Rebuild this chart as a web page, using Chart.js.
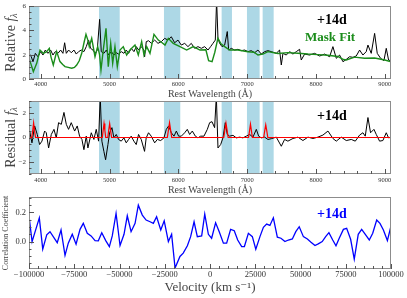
<!DOCTYPE html>
<html>
<head>
<meta charset="utf-8">
<script src="https://cdn.jsdelivr.net/npm/chart.js@4.4.1/dist/chart.umd.min.js"></script>
<style>
  html, body { margin: 0; padding: 0; background: #fff; }
  #wrap { position: relative; width: 407px; height: 298px; overflow: hidden; }
  canvas { position: absolute; left: 0; }
</style>
</head>
<body>
<div id="wrap">
  <canvas id="c1" width="407" height="100" style="top:0px"></canvas>
  <canvas id="c2" width="407" height="100" style="top:96px"></canvas>
  <canvas id="c3" width="407" height="108" style="top:190px"></canvas>
</div>
<script>
// --- data ---
const specWave = [3830,3863,3888,3922,3960,3999,4033,4067,4106,4144,4178,4212,4251,4290,4323,4348,4372,4406,4444,4483,4517,4551,4590,4628,4662,4696,4725,4759,4793,4822,4856,4880,4919,4953,4987,5026,5064,5098,5132,5171,5209,5243,5277,5316,5355,5389,5423,5461,5500,5510,5534,5568,5607,5656,5704,5753,5801,5850,5898,5946,5995,6043,6092,6140,6188,6237,6285,6334,6382,6431,6469,6503,6537,6556,6576,6600,6634,6673,6711,6731,6770,6818,6866,6915,6963,7012,7060,7108,7157,7205,7254,7302,7350,7423,7471,7496,7520,7568,7617,7665,7714,7762,7786,7835,7907,7980,8053,8125,8198,8246,8295,8343,8392,8440,8488,8537,8585,8634,8682,8730,8755,8803,8852,8890,8939,8987,9021,9055,9093];
const specFlux = [2.11,1.83,1.42,2.11,1.83,2.25,1.97,2.38,2.11,2.38,1.97,2.25,2.11,2.38,2.11,2.98,2.11,2.38,2.16,2.38,2.05,2.25,2.38,2.25,2.66,3.2,2.52,2.38,2.11,2.38,4.90,2.25,2.11,2.38,1.97,2.25,1.97,2.16,2.05,2.25,2.11,2.38,2.11,2.52,2.25,2.66,2.38,2.66,2.38,1.83,3.07,3.15,2.93,3.2,2.93,3.07,3.34,3.2,3.47,2.98,3.2,2.79,2.93,2.66,2.93,2.52,2.66,2.52,2.66,2.38,2.66,2.93,3.2,6.5,3.34,2.93,2.66,2.79,3.9,2.38,2.52,2.38,2.44,2.33,2.38,2.25,2.33,2.16,2.38,2.05,2.25,2.33,2.25,2.11,2.38,1.15,2.11,1.97,2.25,2.05,2.25,2.44,1.56,2.05,1.97,2.11,1.89,2.05,1.83,2.66,1.70,1.97,1.42,1.61,1.83,1.78,1.89,2.38,1.97,2.25,2.79,2.11,3.75,2.11,1.70,1.51,2.52,1.56,1.48];

const fitWave = [3830,3860,3893,3942,3990,4038,4087,4125,4150,4183,4232,4280,4320,4353,4400,4450,4490,4523,4560,4596,4630,4658,4685,4706,4741,4789,4828,4855,4876,4909,4949,4982,5017,5046,5079,5113,5152,5200,5249,5297,5370,5418,5467,5501,5540,5588,5646,5709,5760,5806,5854,5926,6024,6121,6217,6314,6400,6440,6490,6530,6575,6620,6673,6745,6866,7011,7100,7157,7229,7302,7447,7592,7737,7883,8028,8173,8318,8400,8440,8561,8706,8852,9000,9093];
const fitFlux = [1.70,1.2,0.60,1.29,2.38,2.11,2.25,2.52,1.8,1.15,2.25,1.43,1.2,1.02,0.95,0.88,0.95,1.15,1.5,2.11,3.0,3.67,3.2,2.66,3.34,1.83,2.66,2.0,0.74,2.38,4.16,1.02,2.93,1.29,2.66,1.02,2.38,2.66,1.97,2.38,2.79,1.97,3.07,1.97,2.66,2.11,3.67,3.2,3.0,2.79,3.34,2.93,2.66,2.38,2.66,2.38,2.4,1.5,1.43,2.2,3.36,2.9,2.66,2.38,2.38,2.24,2.2,1.97,2.05,2.25,2.1,2.17,2.12,2.05,2.0,1.95,1.85,1.6,1.56,1.8,1.7,1.72,1.56,1.42];

const resWave = [3830,3839,3873,3912,3950,3984,4018,4057,4081,4115,4154,4193,4226,4260,4299,4338,4372,4405,4444,4493,4531,4565,4599,4628,4662,4686,4735,4773,4807,4841,4865,4889,4918,4943,4977,5001,5035,5064,5098,5131,5170,5209,5243,5277,5315,5354,5388,5422,5461,5509,5533,5567,5606,5656,5695,5743,5791,5825,5859,5898,5937,5971,6004,6043,6092,6130,6164,6203,6247,6285,6324,6372,6421,6455,6489,6527,6552,6576,6615,6648,6682,6711,6745,6794,6842,6891,6939,6987,7036,7084,7133,7167,7205,7254,7302,7350,7423,7496,7544,7592,7665,7738,7810,7883,7956,8028,8101,8174,8246,8295,8367,8440,8513,8571,8634,8682,8716,8755,8793,8842,8876,8924,8972,9021,9055,9093];
const resFlux = [0.3,0.53,-0.44,0.95,0.25,-0.58,-0.3,0.53,0.39,-0.86,0.25,0.67,-0.03,1.22,1.08,2.06,1.08,0.67,1.22,0.53,0.95,0.11,-0.16,-1.0,0.11,-0.86,0.39,-0.16,0.67,-0.3,3.4,-0.3,-1.14,-1.83,-0.58,0.39,0.81,-0.03,0.25,-0.16,-0.3,-0.03,-0.44,-0.16,0.11,-0.3,-0.58,0.25,-0.16,-1.14,-0.03,0.39,0.11,-0.44,-0.16,-0.25,-0.03,0.67,0.95,0.39,0.11,0.53,0.11,0.11,0.39,0.67,0.25,0.53,0.11,-0.03,0.11,0.11,0.67,1.22,1.3,0.81,3.4,-0.86,-0.58,-0.03,1.22,0.25,0.11,0.18,-0.03,0.03,-0.03,0.11,0.25,0.03,0.67,0.11,-0.03,0.03,-0.16,-0.1,0.03,-0.72,-0.16,-0.3,-0.08,0.03,-0.25,0.03,-0.08,0.03,0.2,0.53,-0.08,-0.3,0.03,-0.25,-0.16,-0.3,0.2,0.39,0.11,1.64,0.39,0.67,0.25,-0.3,-0.25,0.39,-0.03,0.03];

const lineWave = [3830,3870,3885,3897,3910,3925,4895,4908,4920,4932,4945,4975,4988,5002,5015,5030,5840,5856,5872,5888,5904,6660,6676,6692,6708,6724,7020,7034,7048,7062,7076,7240,7255,7270,7285,7300,9093];
const lineFlux = [0,0,0.6,1.2,0.6,0,0,0.6,1.15,0.6,0,0,0.6,1.15,0.6,0,0,0.6,1.22,0.6,0,0,0.6,1.18,0.6,0,0,0.55,1.1,0.55,0,0,0.55,1.05,0.55,0,0];

const maskLo = [3830, 4847, 5791, 6629, 6997, 7225];
const maskHi = [3980, 5148, 6028, 6779, 7181, 7385];

const velocity = [-100000,-98300,-94300,-92400,-90200,-88400,-84400,-82300,-80100,-78300,-76100,-74000,-71800,-70000,-67800,-65700,-63500,-61700,-59800,-57600,-55600,-54000,-51900,-49700,-47500,-45700,-43600,-41400,-39600,-37400,-35300,-33100,-31300,-29500,-27200,-25300,-23000,-21200,-19300,-16600,-14800,-12500,-10700,-8800,-7000,-4600,-2900,-900,900,3100,5100,7400,9200,11400,13400,15300,17500,19000,21200,23400,25300,27600,29500,31300,33100,35000,37200,39200,41400,43300,45500,47400,49300,51600,53800,55800,58000,59800,62000,63900,65700,67800,69600,71400,73700,75500,77700,79700,81900,83800,86000,88000,89900,92100,93900,95800,98000,100000];
const corr = [0.175,0.0,0.163,-0.052,0.046,0.068,-0.007,0.08,-0.095,-0.011,0.05,-0.018,0.084,0.125,0.057,0.039,0.007,0.005,0.061,0.007,-0.034,0.039,0.193,-0.027,0.05,0.177,0.068,0.125,0.25,0.182,0.148,0.136,0.125,0.17,0.08,0.143,0.0,0.05,-0.181,-0.102,-0.079,-0.029,0.034,0.136,0.034,0.039,0.188,0.05,0.023,0.129,0.068,-0.011,-0.011,0.084,0.075,0.011,-0.034,-0.034,0.057,0.034,-0.052,0.034,0.098,0.12,0.111,0.163,0.03,0.023,0.0,0.011,0.018,0.068,0.102,0.034,0.018,-0.004,-0.027,-0.016,0.0,0.034,0.061,0.011,-0.029,0.023,0.084,0.091,0.016,-0.12,0.05,0.084,0.046,0.011,0.057,0.148,0.125,0.08,0.007,0.107];

const waveTicks = [4000, 5000, 6000, 7000, 8000, 9000];
const fluxTicks = [0, 2, 4, 6];
const resTicks = [-2, 0, 2];
const velTicks = [-100000, -75000, -50000, -25000, 0, 25000, 50000, 75000, 100000];
const corrTicks = [0.0, 0.2];

// --- styling ---
const SERIF = "'Liberation Serif', 'DejaVu Serif', serif";
const FRAME = '#8c8c8c';
const TICKC = '#333';
const LABELC = '#444';
const GREEN = '#1a8c1a';
const minus = v => (v < 0 ? '\u2212' + Math.abs(v) : String(v));

function pts(xs, ys) {
  return xs.map((x, i) => ({ x: x, y: ys[i] }));
}

function drawRuns(ctx, runs, cx, cy, rot) {
  ctx.save();
  ctx.translate(cx, cy);
  ctx.rotate(rot || 0);
  ctx.textBaseline = 'middle';
  ctx.textAlign = 'left';
  let w = 0;
  runs.forEach(r => { ctx.font = r.f; w += ctx.measureText(r.t).width; });
  let x = -w / 2;
  runs.forEach(r => {
    ctx.font = r.f;
    ctx.fillStyle = r.c || LABELC;
    ctx.fillText(r.t, x, r.dy || 0);
    x += ctx.measureText(r.t).width;
  });
  ctx.restore();
}

function minorTicks(ctx, scale, a, majors, step, horiz, lenMaj, lenMin) {
  const k0 = Math.ceil(scale.min / step - 1e-6);
  const k1 = Math.floor(scale.max / step + 1e-6);
  for (let k = k0; k <= k1; k++) {
    const v = k * step;
    const isMaj = majors.some(m => Math.abs(m - v) < step * 0.01);
    const len = isMaj ? lenMaj : lenMin;
    const p = Math.round(scale.getPixelForValue(v)) + 0.5;
    ctx.beginPath();
    if (horiz) { ctx.moveTo(p, a.bottom); ctx.lineTo(p, a.bottom - len); }
    else { ctx.moveTo(a.left, p); ctx.lineTo(a.left + len, p); }
    ctx.stroke();
  }
}

function decor(cfg) {
  return {
    id: 'decor',
    beforeDatasetsDraw(chart) {
      if (!cfg.bands) return;
      const { ctx, chartArea: a, scales: { x } } = chart;
      ctx.save();
      ctx.fillStyle = '#add8e6';
      maskLo.forEach((lo, i) => {
        const x0 = Math.max(x.getPixelForValue(lo), a.left);
        const x1 = Math.min(x.getPixelForValue(maskHi[i]), a.right);
        ctx.fillRect(x0, a.top, x1 - x0, a.bottom - a.top);
      });
      ctx.restore();
    },
    afterDraw(chart) {
      const { ctx, chartArea: a, scales: { x, y } } = chart;
      ctx.save();
      ctx.strokeStyle = FRAME;
      ctx.lineWidth = 1;
      ctx.strokeRect(Math.round(a.left) + 0.5, Math.round(a.top) + 0.5,
                     Math.round(a.right - a.left) - 1, Math.round(a.bottom - a.top) - 1);
      ctx.strokeStyle = '#555';
      minorTicks(ctx, x, a, cfg.xMajor, cfg.xMinor, true, 5, 3);
      minorTicks(ctx, y, a, cfg.yMajor, cfg.yMinor, false, 5, 2.5);
      // y tick labels, placed through the y scale
      ctx.font = cfg.ySize + 'px ' + SERIF;
      ctx.fillStyle = TICKC;
      ctx.textAlign = 'right';
      ctx.textBaseline = 'middle';
      cfg.yMajor.forEach(v => ctx.fillText(cfg.yFmt(v), a.left - 3, y.getPixelForValue(v)));
      ctx.restore();
      cfg.texts.forEach(t => {
        const p = t.at(a);
        drawRuns(ctx, t.runs, p[0], p[1], t.rot);
      });
    }
  };
}

function xAxis(min, max, ticks, size, height, pad, fmt) {
  return {
    type: 'linear', min: min, max: max,
    afterBuildTicks: s => { s.ticks = ticks.map(v => ({ value: v })); },
    afterFit: s => { s.height = height; },
    grid: { display: false, drawTicks: false },
    border: { display: false },
    ticks: { font: { family: SERIF, size: size }, color: TICKC, padding: pad,
             maxRotation: 0, autoSkip: false, callback: fmt }
  };
}

function yAxis(min, max, ticks) {
  return {
    type: 'linear', min: min, max: max,
    afterBuildTicks: s => { s.ticks = ticks.map(v => ({ value: v })); },
    afterFit: s => { s.width = 29; },
    grid: { display: false, drawTicks: false },
    border: { display: false },
    ticks: { display: false }
  };
}

function lineSet(data, color, width, order) {
  return { data: data, borderColor: color, borderWidth: width, pointRadius: 0,
           fill: false, tension: 0, order: order };
}

function baseOptions(padTop, scales) {
  return {
    responsive: false, animation: false, events: [],
    layout: { padding: { top: padTop, right: 16, left: 0, bottom: 0 } },
    plugins: { legend: { display: false }, tooltip: { enabled: false } },
    scales: scales
  };
}

const yTitle = (word) => [
  { t: word + ' ', f: '14px ' + SERIF },
  { t: 'f', f: 'italic 14px ' + SERIF },
  { t: '\u03bb', f: 'italic 10px ' + SERIF, dy: 3 }
];

// panel 1: spectrum and mask fit
new Chart(document.getElementById('c1'), {
  type: 'line',
  data: { datasets: [
    lineSet(pts(specWave, specFlux), '#000', 1, 1),
    lineSet(pts(fitWave, fitFlux), GREEN, 1.4, 0)
  ] },
  options: baseOptions(6, {
    x: xAxis(3830, 9090, waveTicks, 6.5, 21, 1, v => String(v)),
    y: yAxis(0, 6, fluxTicks)
  }),
  plugins: [decor({
    bands: true, xMajor: waveTicks, xMinor: 200, yMajor: fluxTicks, yMinor: 0.5,
    ySize: 7, yFmt: v => String(v),
    texts: [
      { runs: yTitle('Relative'), rot: -Math.PI / 2, at: a => [a.left - 18, (a.top + a.bottom) / 2] },
      { runs: [{ t: 'Rest Wavelength (\u00c5)', f: '10px ' + SERIF }], at: a => [(a.left + a.right) / 2, a.bottom + 15] },
      { runs: [{ t: '+14d', f: 'bold 14px ' + SERIF, c: '#000' }], at: a => [a.right - 59, a.top + 14] },
      { runs: [{ t: 'Mask Fit', f: 'bold 13px ' + SERIF, c: GREEN }], at: a => [a.right - 61, a.top + 32] }
    ]
  })]
});

// panel 2: residual and line fit
new Chart(document.getElementById('c2'), {
  type: 'line',
  data: { datasets: [
    lineSet(pts(resWave, resFlux), '#000', 1, 1),
    lineSet(pts(lineWave, lineFlux), '#ff0000', 1.2, 0)
  ] },
  options: baseOptions(5, {
    x: xAxis(3830, 9090, waveTicks, 6.5, 22, 2, v => String(v)),
    y: yAxis(-3, 3, resTicks)
  }),
  plugins: [decor({
    bands: true, xMajor: waveTicks, xMinor: 200, yMajor: resTicks, yMinor: 0.5,
    ySize: 7, yFmt: minus,
    texts: [
      { runs: yTitle('Residual'), rot: -Math.PI / 2, at: a => [a.left - 18, (a.top + a.bottom) / 2] },
      { runs: [{ t: 'Rest Wavelength (\u00c5)', f: '10px ' + SERIF }], at: a => [(a.left + a.right) / 2, a.bottom + 16.5] },
      { runs: [{ t: '+14d', f: 'bold 14px ' + SERIF, c: '#000' }], at: a => [a.right - 59, a.top + 15] }
    ]
  })]
});

// panel 3: cross-correlation
new Chart(document.getElementById('c3'), {
  type: 'line',
  data: { datasets: [
    lineSet(pts(velocity, corr), '#0000ff', 1.3, 0)
  ] },
  options: baseOptions(7, {
    x: xAxis(-100000, 100000, velTicks, 8.5, 29, 1, minus),
    y: yAxis(-0.188, 0.306, corrTicks)
  }),
  plugins: [decor({
    bands: false, xMajor: velTicks, xMinor: 5000, yMajor: corrTicks, yMinor: 0.05,
    ySize: 8.5, yFmt: v => v.toFixed(1),
    texts: [
      { runs: [{ t: 'Correlation Coefficient', f: '8px ' + SERIF }], rot: -Math.PI / 2, at: a => [a.left - 23, (a.top + a.bottom) / 2] },
      { runs: [{ t: 'Velocity (km s\u207b\u00b9)', f: '13px ' + SERIF }], at: a => [(a.left + a.right) / 2, a.bottom + 19] },
      { runs: [{ t: '+14d', f: 'bold 14px ' + SERIF, c: '#0000ff' }], at: a => [a.right - 59, a.top + 17] }
    ]
  })]
});
</script>
</body>
</html>
